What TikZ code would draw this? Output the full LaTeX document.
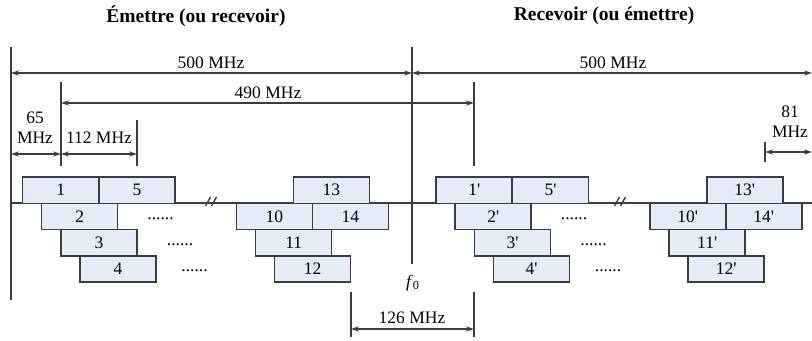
\documentclass[tikz,border=0pt]{standalone}
\usepackage{fontspec}
\setmainfont{Liberation Serif}
\usetikzlibrary{arrows.meta}
\definecolor{chanfill}{HTML}{E6ECF7}
\definecolor{ink}{HTML}{3C3C3C}

\begin{document}
\begin{tikzpicture}[x=.5pt,y=-.5pt,>={Stealth[length=4pt,width=2.6pt]},
  chan/.style={draw=ink,line width=.75pt,fill=chanfill,minimum width=38pt,
    minimum height=13.15pt,inner sep=0pt,font=\fontsize{8.75}{10}\selectfont},
  dim/.style={ink,line width=.55pt,<->},
  tick/.style={ink,line width=.7pt},
  lbl/.style={font=\fontsize{8.75}{10}\selectfont,inner sep=0pt,align=center},
  ttl/.style={font=\fontsize{9.75}{11}\selectfont\bfseries}]
  \useasboundingbox (0,0) rectangle (812,341);
  % titles
  \node[ttl] (ttlL) at (196,16) {Émettre (ou recevoir)};
  \node[ttl] (ttlR) at (604,16) {Recevoir (ou émettre)};
  % axis and reference lines
  \draw[tick] (11,203) -- (812,203);
  \draw[tick] (11,47) -- (11,300);
  \draw[tick] (412,47) -- (412,264);
  \draw[tick] (61,82) -- (61,166);
  \draw[tick] (474,82) -- (474,166);
  \draw[tick] (137,120) -- (137,166);
  \draw[tick] (765,142) -- (765,162);
  \draw[tick] (351,292) -- (351,337);
  \draw[tick] (474,292) -- (474,337);
  % breaks
  \foreach \bx in {211,620} {
    \draw[tick] (\bx-5.5,206) -- (\bx-0.5,197) (\bx+0.5,206) -- (\bx+5.5,197);
  }
  % dimensions
  \draw[dim] (11,73) -- (412,73);
  \draw[dim] (412,73) -- (812,73);
  \draw[dim] (61,103) -- (474,103);
  \draw[dim] (11,154) -- (61,154);
  \draw[dim] (61,154) -- (137,154);
  \draw[dim] (765,152) -- (812,152);
  \draw[dim] (351,329) -- (474,329);
  \node[lbl] (wL) at (211,63) {500 MHz};
  \node[lbl] (wR) at (613,63) {500 MHz};
  \node[lbl] (wIF) at (268,93) {490 MHz};
  \node[lbl] (wLo) at (35,128) {65\\MHz};
  \node[lbl] (wCh) at (99,138) {112 MHz};
  \node[lbl] (wHi) at (790,122) {81\\MHz};
  \node[lbl] (wGap) at (412,318) {126 MHz};
  \node[lbl] (f0) at (413,283) {\textit{f}\textsubscript{0}};
  % channels
  \foreach \side/\dx/\pr in {L/0/{},R/413.5/\textquotesingle} {
    \foreach \n/\x/\r in {1/22.7/1,5/99/1,13/293.3/1,2/41.7/2,10/236.3/2,
        14/312.3/2,3/61/3,11/255.7/3,4/80/4,12/274.7/4} {
      \node[chan] (\side\n) at ({\x+\dx+38},{190.15+26.3*(\r-1)}) {\n\pr};
    }
    \foreach \d/\x/\y in {1/160.5/219,2/180/245,3/194.5/271} {
      \node[lbl] (\side dots\d) at ({\x+\dx},\y) {......};
    }
  }
\end{tikzpicture}
\end{document}
